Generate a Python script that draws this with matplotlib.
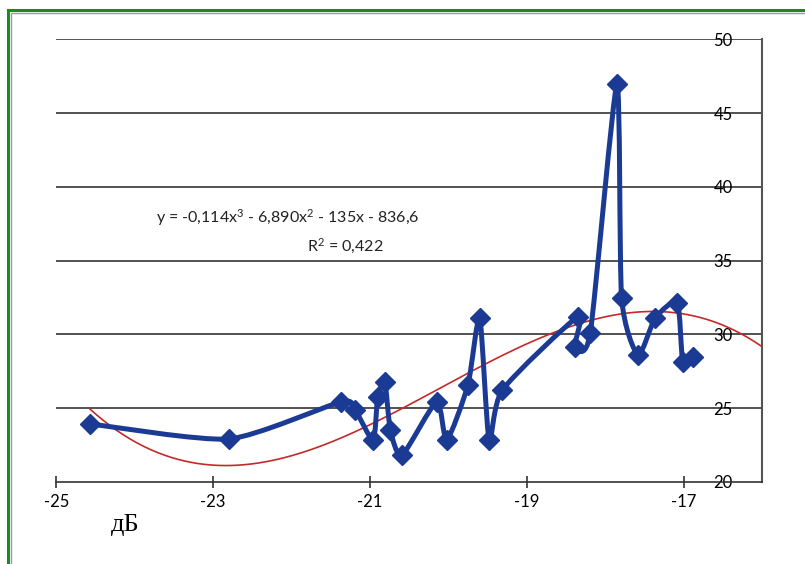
import numpy as np
import matplotlib.pyplot as plt
from matplotlib.path import Path
from matplotlib.patches import PathPatch, Rectangle

# measurements: level (dB) and value
level = [-24.57, -22.80, -21.37, -21.19, -20.96, -20.90, -20.81, -20.74, -20.59,
         -20.15, -20.02, -19.75, -19.60, -19.48, -19.31, -18.35, -18.39, -18.19,
         -17.85, -17.79, -17.58, -17.36, -17.08, -17.01, -16.88]
value = [23.94, 22.92, 25.43, 24.89, 22.85, 25.77, 26.79, 23.53, 21.83,
         25.43, 22.85, 26.59, 31.13, 22.85, 26.25, 31.20, 29.16, 30.10,
         46.95, 32.49, 28.62, 31.13, 32.15, 28.15, 28.49]

xticks = [-25, -23, -21, -19, -17]
yticks = [20, 25, 30, 35, 40, 45, 50]
eq_text = r'y = -0,114x$^3$ - 6,890x$^2$ - 135x - 836,6'
r2_text = r'R$^2$ = 0,422'
unit_text = 'дБ'

blue = '#1b3a93'
red = '#c42a2a'

plt.rcParams['font.family'] = ['Lato', 'DejaVu Sans']
plt.rcParams['mathtext.fontset'] = 'custom'
plt.rcParams['mathtext.rm'] = 'Lato'
plt.rcParams['mathtext.default'] = 'rm'

fig = plt.figure(figsize=(8.05, 5.64), dpi=100)
ax = fig.add_axes([0.070, 0.1454, 0.8765, 0.7846])

ax.set_xlim(-25, -16)
ax.set_ylim(20, 50)

# horizontal grid
for yv in yticks[1:]:
    ax.axhline(yv, color='#333333', lw=1.2, zorder=1)

# smoothed line through the points, control points worked out in screen space
pts = ax.transData.transform(np.column_stack([level, value]))
verts = [pts[0]]
codes = [Path.MOVETO]
n = len(pts)
k = 1 / 9.0
for i in range(n - 1):
    p0 = pts[max(i - 1, 0)]
    p1 = pts[i]
    p2 = pts[i + 1]
    p3 = pts[min(i + 2, n - 1)]
    c1 = p1 + (p2 - p0) * k
    c2 = p2 - (p3 - p1) * k
    verts += [c1, c2, p2]
    codes += [Path.CURVE4] * 3
verts = ax.transData.inverted().transform(np.array(verts))
ax.add_patch(PathPatch(Path(verts, codes), fill=False, edgecolor=blue,
                       lw=3.6, joinstyle='round', zorder=3))
ax.plot(level, value, ls='none', marker='D', ms=10, color=blue, zorder=4)

# cubic trend line
coef = np.polyfit(level, value, 3)
xt = np.linspace(min(level), -16, 200)
ax.plot(xt, np.polyval(coef, xt), color=red, lw=1.2, zorder=2)

ax.text(-22.05, 37.9, eq_text, ha='center', va='center', fontsize=11.5, color='#222222')
ax.text(-21.32, 36.0, r2_text, ha='center', va='center', fontsize=11.5, color='#222222')

# axes styling
for s in ['left', 'top']:
    ax.spines[s].set_visible(False)
ax.spines['bottom'].set_color('#333333')
ax.spines['bottom'].set_linewidth(1.2)
ax.spines['right'].set_color('#555555')
ax.spines['right'].set_linewidth(1.5)
ax.set_xticks(xticks)
ax.set_xticklabels([str(t) for t in xticks])
ax.set_yticks(yticks)
ax.set_yticklabels([str(t) for t in yticks])
ax.yaxis.tick_right()
ax.tick_params(axis='x', direction='inout', length=9, width=1.2, color='#333333',
               labelsize=12, pad=4)
ax.tick_params(axis='y', length=0, labelsize=12, pad=-35)

fig.text(125 / 805, 1 - 525 / 564, unit_text, family='Liberation Serif',
         fontsize=19, ha='center', va='center')

# outer frame
fig.patches.append(Rectangle((8 / 805, -0.1), 1.2, 1.1 - 10 / 564,
                             transform=fig.transFigure, fill=False,
                             edgecolor='#1c8a1c', lw=2.2))
fig.patches.append(Rectangle((11 / 805, -0.1), 1.2, 1.1 - 13 / 564,
                             transform=fig.transFigure, fill=False,
                             edgecolor='#9a9a9a', lw=1.0))

fig.savefig('out.png', dpi=100)
